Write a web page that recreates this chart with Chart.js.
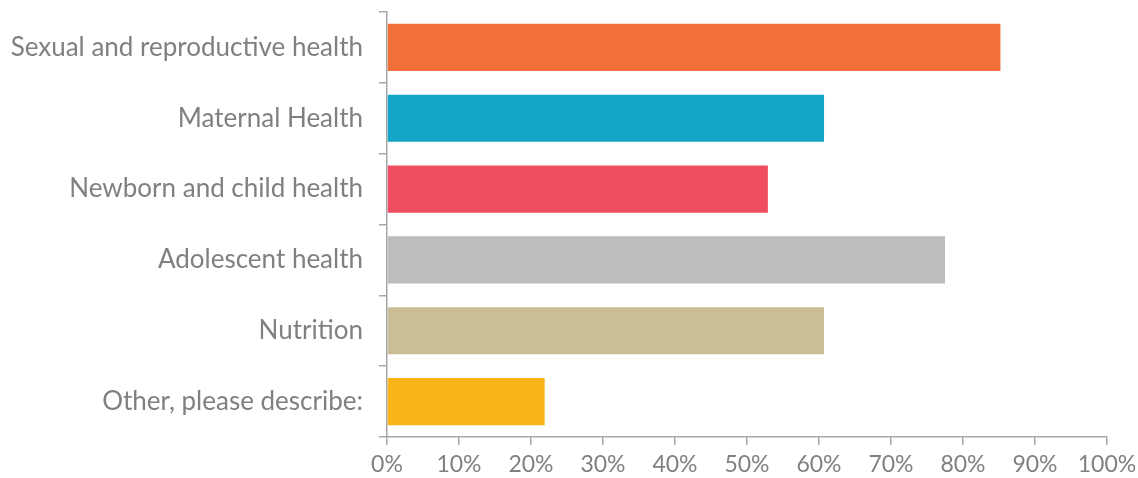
<!DOCTYPE html>
<html>
<head>
<meta charset="utf-8">
<script src="https://cdn.jsdelivr.net/npm/chart.js@4"></script>
<style>
  html, body { margin: 0; padding: 0; background: #fff; }
  #wrap { width: 1138px; height: 478px; position: relative; }
</style>
</head>
<body>
<div id="wrap"><canvas id="myChart"></canvas></div>
<script>
//categories and values (percent)
const categories = ['Sexual and reproductive health', 'Maternal Health', 'Newborn and child health', 'Adolescent health', 'Nutrition', 'Other, please describe:'];
const shares = [85.2, 60.7, 52.9, 77.5, 60.7, 21.9];
const barColours = ['#F1703A', '#13A6C6', '#EF4D60', '#BDBDBD', '#CBBD96', '#FBB417'];
const xTicks = [0, 10, 20, 30, 40, 50, 60, 70, 80, 90, 100];

const AXIS_GREY = '#a6a6a6';
const TEXT_GREY = '#808080';
const FONT = 'Lato, "Open Sans", sans-serif';

var ctx = document.getElementById('myChart');
var chart = new Chart(ctx, {
	type: 'bar',
	data: {
		labels: categories,
		datasets: [{
			data: shares,
			backgroundColor: barColours,
			borderWidth: 0,
			barPercentage: 0.665,
			categoryPercentage: 1
		}]
	},
	options: {
		indexAxis: 'y',
		responsive: true,
		maintainAspectRatio: false,
		animation: false,
		layout: { padding: { left: 0, right: 31, top: 12, bottom: 0 } },
		plugins: {
			legend: { display: false },
			tooltip: { enabled: false }
		},
		scales: {
			x: {
				min: 0,
				max: 100,
				afterBuildTicks: function(axis) {
					axis.ticks = xTicks.map(function(v) { return { value: v }; });
				},
				afterFit: function(axis) {
					axis.height = 41;
					axis.paddingLeft = 0;
					axis.paddingRight = 0;
				},
				border: { color: AXIS_GREY, width: 1.5 },
				grid: { display: true, drawOnChartArea: false, tickLength: 8, color: AXIS_GREY, lineWidth: 1.5 },
				ticks: {
					padding: 6,
					color: TEXT_GREY,
					font: { family: FONT, size: 23 },
					maxRotation: 0,
					callback: function(v) { return v + '%'; }
				}
			},
			y: {
				afterFit: function(axis) {
					axis.width = 387;
					axis.paddingTop = 0;
					axis.paddingBottom = 0;
				},
				border: { color: AXIS_GREY, width: 1.5 },
				grid: { display: true, drawOnChartArea: false, tickLength: 8, color: AXIS_GREY, lineWidth: 1.5, offset: true },
				ticks: {
					padding: 16,
					color: TEXT_GREY,
					font: { family: FONT, size: 26 }
				}
			}
		}
	}
});
</script>
</body>
</html>
